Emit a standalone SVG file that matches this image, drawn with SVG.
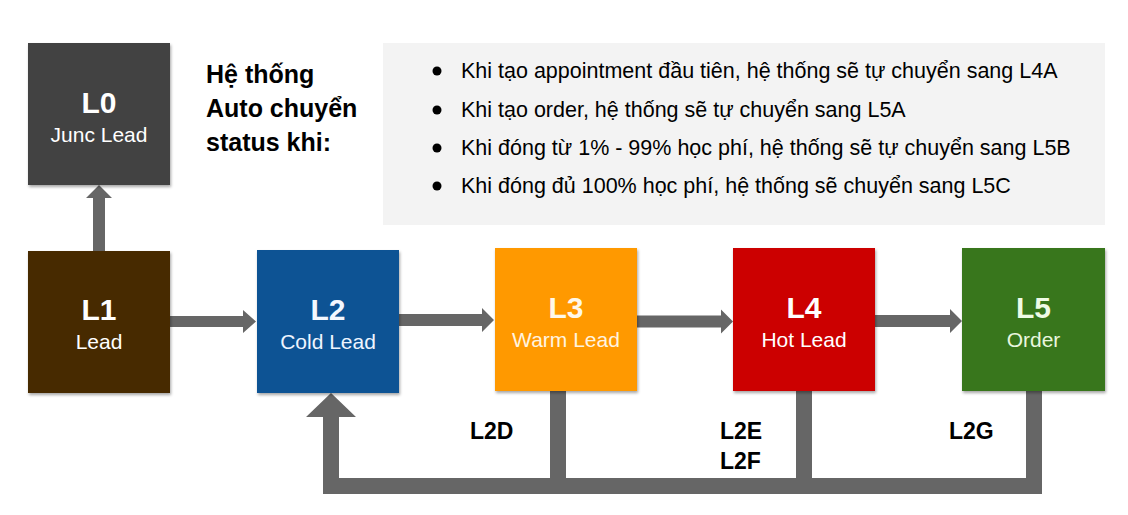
<svg xmlns="http://www.w3.org/2000/svg" width="1128" height="515" viewBox="0 0 1128 515">
<defs>
<filter id="sh" x="-10%" y="-10%" width="125%" height="125%">
<feDropShadow dx="1" dy="2" stdDeviation="1.5" flood-color="#000" flood-opacity="0.35"/>
</filter>
<style>
.box{filter:url(#sh);}
.big{font-family:"Liberation Sans",Arial,sans-serif;font-weight:bold;font-size:30px;text-anchor:middle;}
.sub{font-family:"Liberation Sans",Arial,sans-serif;font-size:21px;text-anchor:middle;}
.title{font-family:"Liberation Sans",Arial,sans-serif;font-weight:bold;font-size:25px;fill:#000;}
.lbl{font-family:"Liberation Sans",Arial,sans-serif;font-weight:bold;font-size:23px;fill:#000;}
.bul{font-family:"Liberation Sans",Arial,sans-serif;font-size:21.5px;fill:#000;}
.conn{fill:#666666;}
</style>
</defs>
<rect width="1128" height="515" fill="#ffffff"/>

<g id="info">
<rect x="383" y="43" width="722" height="182" fill="#f3f3f3"/>
<circle cx="437" cy="71" r="4.5" fill="#000"/>
<circle cx="437" cy="110" r="4.5" fill="#000"/>
<circle cx="437" cy="148" r="4.5" fill="#000"/>
<circle cx="437" cy="186" r="4.5" fill="#000"/>
<text class="bul" x="461" y="78">Khi tạo appointment đầu tiên, hệ thống sẽ tự chuyển sang L4A</text>
<text class="bul" x="461" y="117">Khi tạo order, hệ thống sẽ tự chuyển sang L5A</text>
<text class="bul" x="461" y="155">Khi đóng từ 1% - 99% học phí, hệ thống sẽ tự chuyển sang L5B</text>
<text class="bul" x="461" y="193">Khi đóng đủ 100% học phí, hệ thống sẽ chuyển sang L5C</text>
</g>

<g id="title">
<text class="title" x="206" y="83">Hệ thống</text>
<text class="title" x="206" y="117">Auto chuyển</text>
<text class="title" x="206" y="151">status khi:</text>
</g>

<g id="connectors">
<path class="conn" d="M93,251 V198 H86 L99,185 L112,198 H105 V251 Z"/>
<path class="conn" d="M170,316 H243 V310 L256,321.5 L243,333 V327 H170 Z"/>
<path class="conn" d="M399,314 H482 V308 L494,320 L482,332 V326 H399 Z"/>
<path class="conn" d="M637,315.5 H721 V309.5 L733,321.5 L721,333.5 V327.5 H637 Z"/>
<path class="conn" d="M875,315 H950 V309 L962,321 L950,333 V327 H875 Z"/>
<path class="conn" d="M323,494 V417 H306 L331,393 L356,417 H339 V478 H550 V391 H566 V478 H796 V391 H812 V478 H1026 V391 H1042 V494 Z"/>
</g>

<g id="L0">
<rect class="box" x="28" y="43" width="142" height="142" fill="#434343"/>
<text class="big" x="99" y="113" fill="#ffffff">L0</text>
<text class="sub" x="99" y="142" fill="#ffffff">Junc Lead</text>
</g>
<g id="L1">
<rect class="box" x="28" y="251" width="142" height="142" fill="#472a02"/>
<text class="big" x="99" y="320" fill="#ffffff">L1</text>
<text class="sub" x="99" y="349" fill="#ffffff">Lead</text>
</g>
<g id="L2">
<rect class="box" x="257" y="250" width="142" height="143" fill="#0b5394"/>
<text class="big" x="328" y="320" fill="#f3f8ff">L2</text>
<text class="sub" x="328" y="349" fill="#eef5ff">Cold Lead</text>
</g>
<g id="L3">
<rect class="box" x="495" y="248" width="142" height="143" fill="#ff9900"/>
<text class="big" x="566" y="318" fill="#fff8ea">L3</text>
<text class="sub" x="566" y="347" fill="#fff4e0">Warm Lead</text>
</g>
<g id="L4">
<rect class="box" x="733" y="248" width="142" height="143" fill="#cc0000"/>
<text class="big" x="804" y="318" fill="#ffffff">L4</text>
<text class="sub" x="804" y="347" fill="#ffffff">Hot Lead</text>
</g>
<g id="L5">
<rect class="box" x="962" y="248" width="143" height="143" fill="#38761d"/>
<text class="big" x="1033.5" y="318" fill="#effbe6">L5</text>
<text class="sub" x="1033.5" y="347" fill="#e9f7df">Order</text>
</g>

<g id="labels">
<text class="lbl" x="470" y="439">L2D</text>
<text class="lbl" x="720" y="439">L2E</text>
<text class="lbl" x="720" y="469">L2F</text>
<text class="lbl" x="949" y="439">L2G</text>
</g>
</svg>
